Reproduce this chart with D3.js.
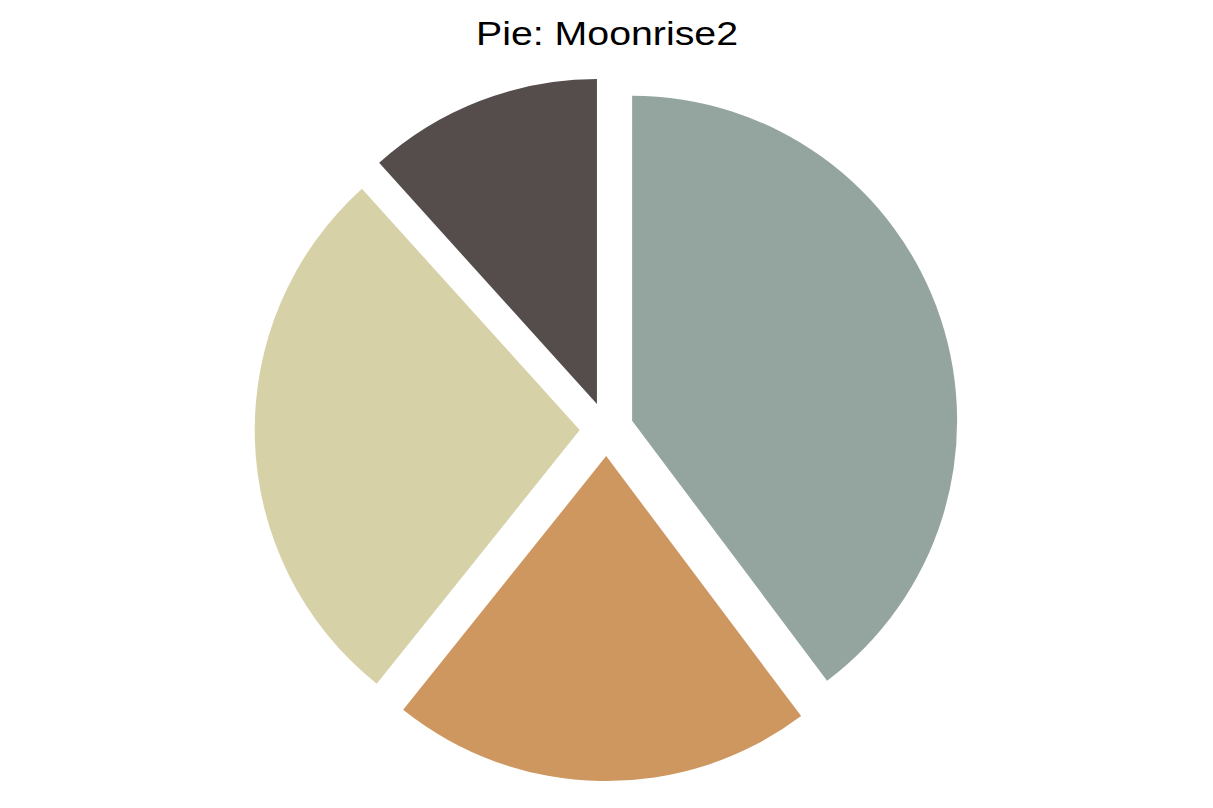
<!DOCTYPE html>
<html>
<head>
<meta charset="utf-8">
<script src="https://cdn.jsdelivr.net/npm/d3@7"></script>
<style>
  html, body { margin: 0; padding: 0; background: #ffffff; }
  svg { display: block; }
</style>
</head>
<body>
<svg id="chart" width="1213" height="808"></svg>
<script>
const categories = ["A", "B", "C", "D"];
const values = [39.8, 21.0, 27.6, 11.7];
const colors = ["#94A59F", "#CE9760", "#D6D1A7", "#544D4C"];
const title = "Pie: Moonrise2";

const W = 1213, H = 808;
const cx = 606.6, cy = 429.2, R = 325, explode = 26.9;

const svg = d3.select("#chart");
svg.append("rect").attr("width", W).attr("height", H).attr("fill", "#ffffff");

svg.append("text")
  .attr("x", 607)
  .attr("y", 44.5)
  .attr("text-anchor", "middle")
  .attr("font-family", "Liberation Sans, Arial, sans-serif")
  .attr("font-size", 33)
  .attr("textLength", 262)
  .attr("lengthAdjust", "spacingAndGlyphs")
  .attr("fill", "#000000")
  .text(title);

const data = categories.map((c, i) => ({ cat: c, value: values[i], color: colors[i] }));
const pie = d3.pie().sort(null).value(d => d.value).startAngle(0).endAngle(2 * Math.PI);
const arc = d3.arc().innerRadius(0).outerRadius(R);

const g = svg.append("g").attr("transform", `translate(${cx},${cy})`);
g.selectAll("path")
  .data(pie(data))
  .join("path")
  .attr("d", arc)
  .attr("fill", d => d.data.color)
  .attr("transform", d => {
    const mid = (d.startAngle + d.endAngle) / 2;
    return `translate(${Math.sin(mid) * explode},${-Math.cos(mid) * explode})`;
  });
</script>
</body>
</html>
